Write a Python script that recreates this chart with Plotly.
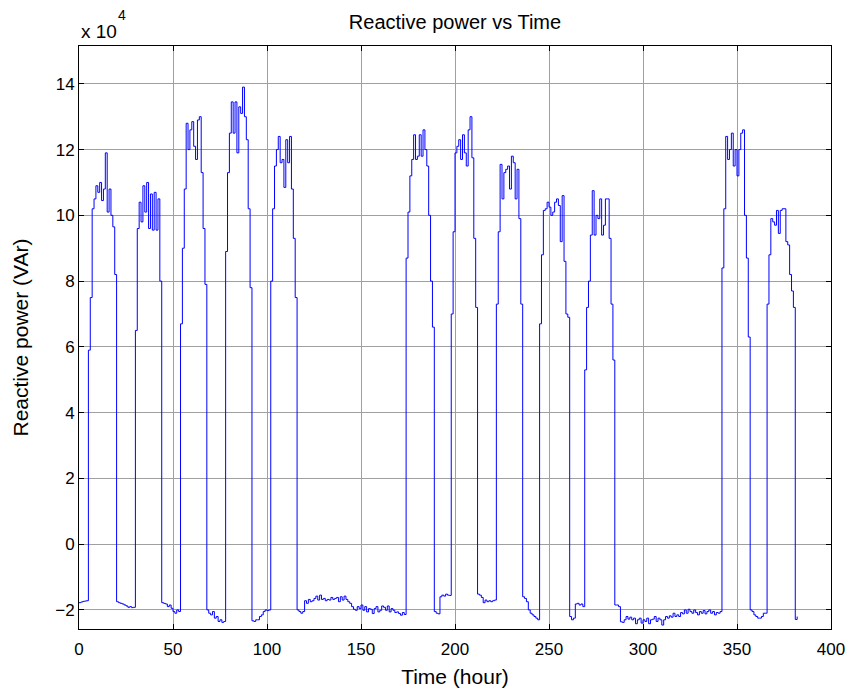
import plotly.graph_objects as go

# Time axis (hours) and reactive power readings in units of 1e4 VAr
hours = list(range(383))

day01 = [-1.78, -1.76, -1.74, -1.73, -1.72, 5.9, 7.5, 10.2, 10.5, 10.9, 10.7, 11.0,
         10.45, 10.8, 11.9, 10.1, 10.8, 10.0, 9.65, 8.2, -1.75, -1.78, -1.80, -1.82]
day02 = [-1.85, -1.88, -1.92, -1.90, -1.93, -1.92, 6.5, 9.6, 10.4, 9.8, 10.9, 10.1,
         11.0, 9.6, 10.65, 9.55, 10.7, 9.55, 10.5, 8.0, -1.78, -1.80, -1.82, -1.90]
day03 = [-1.85, -1.95, -2.05, -2.10, -2.00, -2.05, 6.7, 9.0, 10.8, 12.8, 12.0, 12.6,
         12.85, 12.1, 11.7, 12.9, 13.0, 11.3, 9.6, 7.9, -2.00, -2.10, -2.15, -2.05]
day04 = [-2.25, -2.20, -2.35, -2.30, -2.38, -2.35, 8.9, 11.3, 12.5, 13.45, 12.5, 13.45,
         11.9, 13.3, 13.1, 13.9, 13.0, 12.3, 10.2, 7.8, -2.33, -2.35, -2.30, -2.30]
day05 = [-2.20, -2.15, -2.05, -2.00, -2.02, -2.00, 8.0, 10.2, 11.5, 12.0, 12.4, 11.6,
         11.7, 10.85, 12.3, 11.6, 12.4, 10.8, 9.3, 7.5, -2.00, -2.05, -2.10, -2.05]
day06 = [-1.72, -1.80, -1.68, -1.75, -1.72, -1.65, -1.58, -1.70, -1.55, -1.68, -1.65, -1.72,
         -1.68, -1.70, -1.62, -1.68, -1.65, -1.62, -1.75, -1.60, -1.70, -1.58, -1.68, -1.75]
day07 = [-1.80, -1.90, -1.98, -2.01, -1.90, -1.96, -1.85, -2.01, -1.90, -2.06, -1.96, -1.98,
         -2.11, -1.96, -1.90, -2.06, -2.01, -1.88, -1.92, -2.01, -1.88, -2.06, -1.96, -2.01]
day08 = [-2.08, -2.06, -2.11, -2.16, -2.08, -2.14, 8.7, 10.1, 11.2, 11.7, 12.45, 11.7,
         11.8, 12.45, 11.8, 12.6, 12.0, 11.5, 10.0, 8.0, 6.6, -2.05, -2.10, -2.12]
day09 = [-1.60, -1.55, -1.58, -1.52, -1.55, -1.56, 7.0, 9.5, 11.9, 12.1, 12.3, 11.7,
         12.45, 11.9, 11.5, 12.6, 13.0, 11.75, 9.3, 7.2, -1.52, -1.55, -1.62, -1.78]
day10 = [-1.70, -1.75, -1.72, -1.75, -1.72, -1.70, 7.3, 9.5, 11.55, 10.5, 11.3, 11.4,
         11.5, 10.8, 11.8, 11.6, 10.5, 11.4, 9.9, 7.3, -1.60, -1.65, -1.75, -2.00]
day11 = [-2.10, -2.15, -2.20, -2.25, -2.30, 6.7, 8.8, 10.15, 10.2, 10.4, 10.25, 10.0,
         10.1, 10.4, 10.5, 10.3, 9.2, 10.6, 8.6, 7.0, 6.9, -2.20, -2.30, -2.25]
day12 = [-1.82, -1.80, -1.85, -1.82, -1.90, 5.3, 7.2, 8.0, 9.4, 10.75, 9.4, 10.0,
         9.9, 10.5, 9.4, 9.7, 10.5, 10.5, 9.3, 7.3, 5.6, -1.85, -1.85, -1.90]
day13 = [-2.36, -2.38, -2.30, -2.20, -2.28, -2.22, -2.30, -2.25, -2.42, -2.30, -2.25, -2.40,
         -2.30, -2.35, -2.25, -2.42, -2.30, -2.28, -2.20, -2.35, -2.25, -2.30, -2.46, -2.30]
day14 = [-2.20, -2.25, -2.18, -2.22, -2.10, -2.20, -2.15, -2.20, -2.08, -2.12, -2.00, -2.10,
         -1.98, -2.05, -2.10, -2.00, -2.08, -2.15, -2.05, -2.10, -2.02, -2.12, -2.05, -2.00]
day15 = [-2.10, -2.05, -2.15, -2.08, -2.10, -2.05, 8.4, 10.2, 12.4, 11.7, 12.0, 12.5,
         11.5, 12.0, 11.2, 12.0, 12.5, 12.6, 10.0, 8.7, 6.3, -2.00, -2.05, -2.15]
day16 = [-2.20, -2.25, -2.25, -2.20, -2.10, -2.10, 7.3, 8.8, 9.9, 9.8, 9.7, 10.15,
         9.45, 10.15, 10.2, 10.2, 9.2, 9.1, 8.2, 7.7, 7.2, -2.29, -2.20]

reactive_power = (day01 + day02 + day03 + day04 + day05 + day06 + day07 + day08 +
                  day09 + day10 + day11 + day12 + day13 + day14 + day15 + day16)

x_ticks = [0, 50, 100, 150, 200, 250, 300, 350, 400]
y_ticks = [-2, 0, 2, 4, 6, 8, 10, 12, 14]

FONT = "Liberation Sans, Arial, sans-serif"

fig = go.Figure()
fig.add_trace(go.Scatter(x=hours, y=reactive_power, mode="lines",
                         line=dict(color="#0000ff", width=1, shape="hv"), showlegend=False))

axis_common = dict(
    showline=True, linecolor="black", linewidth=1, mirror="allticks",
    ticks="inside", ticklen=5, tickcolor="black", tickwidth=1,
    showgrid=True, gridcolor="#a0a0a0", gridwidth=1, zeroline=False,
    automargin=False,
    tickfont=dict(family=FONT, size=17, color="black"),
)

fig.update_layout(
    width=854, height=695,
    paper_bgcolor="white", plot_bgcolor="white",
    margin=dict(l=79, r=23, t=46, b=66),
    title=dict(text="Reactive power vs Time", x=0.5, xref="paper", xanchor="center",
               y=1 - 22 / 695, yref="container", yanchor="middle",
               font=dict(family=FONT, size=20, color="black")),
    xaxis=dict(range=[0, 400], tickvals=x_ticks, ticklabelstandoff=5,
               title=dict(text="Time (hour)", font=dict(family=FONT, size=21, color="black"),
                          standoff=10),
               **axis_common),
    yaxis=dict(range=[-2.58, 15.15], tickvals=y_ticks,
               title=dict(text="Reactive power (VAr)", font=dict(family=FONT, size=21, color="black"),
                          standoff=20),
               **axis_common),
    annotations=[
        dict(text="x 10", xref="paper", yref="paper", x=0, y=1 + (46 - 31) / 583,
             xanchor="left", yanchor="middle", showarrow=False,
             font=dict(family=FONT, size=19, color="black")),
        dict(text="4", xref="paper", yref="paper", x=(116 - 79) / 752, y=1 + (46 - 15) / 583,
             xanchor="left", yanchor="middle", showarrow=False,
             font=dict(family=FONT, size=14, color="black")),
    ],
)

fig.write_html("out.html")
